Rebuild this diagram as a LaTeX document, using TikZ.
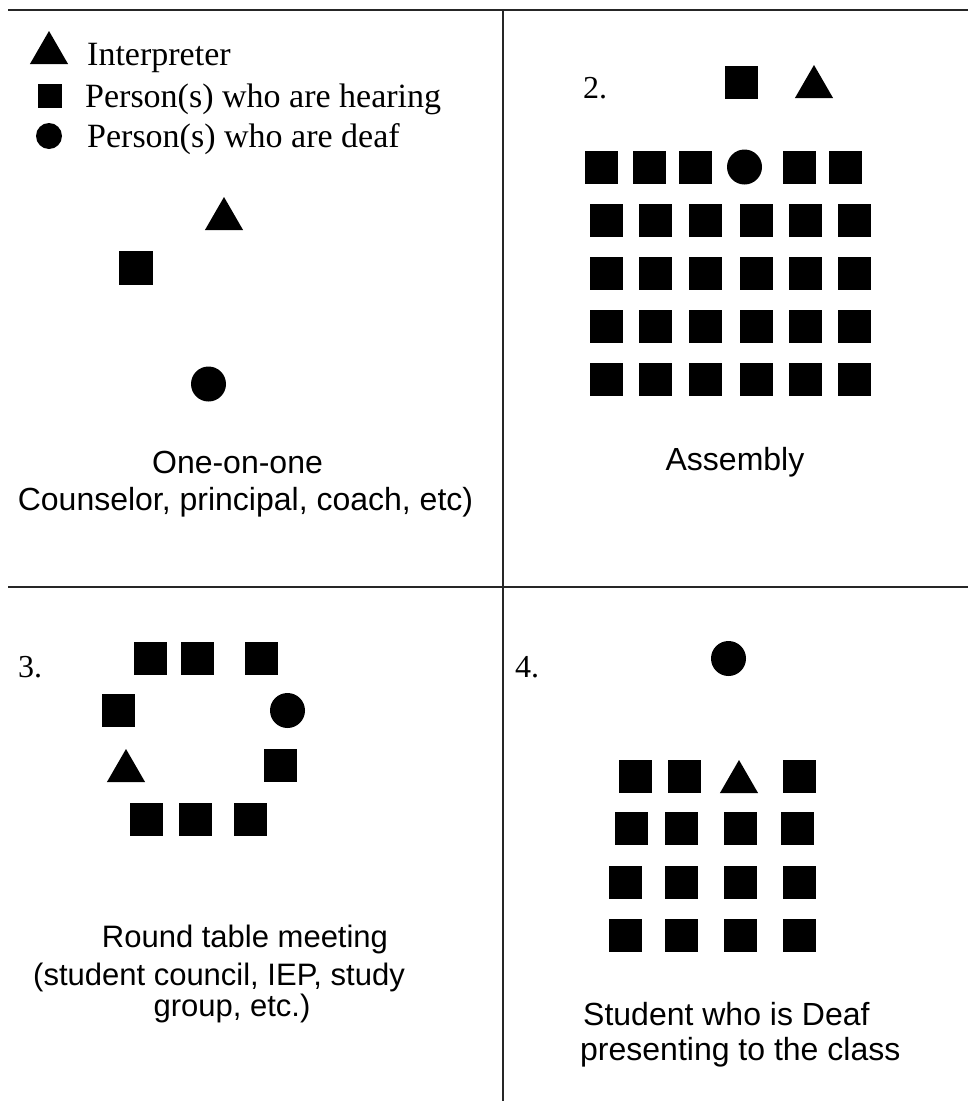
\documentclass[tikz,border=0pt]{standalone}
\usepackage{fontspec}
\setmainfont{Liberation Serif}
\newfontfamily\capfont{Liberation Sans}
\usetikzlibrary{shapes.geometric}
\tikzset{
  sq/.style={rectangle, fill=black, draw=none, minimum size=33pt, inner sep=0pt},
  dotp/.style={circle, fill=black, draw=none, minimum size=35pt, inner sep=0pt},
  tri/.style={regular polygon, regular polygon sides=3, fill=black, draw=none, minimum size=44pt, inner sep=0pt},
  legtxt/.style={anchor=base west, inner sep=0pt, font=\fontsize{34}{40}\selectfont},
  numtxt/.style={anchor=base west, inner sep=0pt, font=\fontsize{32}{38}\selectfont},
  captxt/.style={anchor=base, inner sep=0pt, font=\capfont\fontsize{32}{37}\selectfont},
  captxts/.style={anchor=base, inner sep=0pt, font=\capfont\fontsize{31}{37}\selectfont},
  captxtl/.style={anchor=base west, inner sep=0pt, font=\capfont\fontsize{32}{37}\selectfont},
  frame/.style={line width=1.6pt, draw=black!85}
}
\begin{document}
\begin{tikzpicture}[x=1pt, y=-1pt]
\useasboundingbox[fill=white] (0,0) rectangle (968,1101);

% frame lines
\coordinate (tl) at (8,10);
\coordinate (tr) at (968,10);
\coordinate (ml) at (8,587);
\coordinate (mr) at (968,587);
\coordinate (vt) at (503,10);
\coordinate (vb) at (503,1101);
\draw[frame] (tl) -- (tr);
\draw[frame] (ml) -- (mr);
\draw[frame] (vt) -- (vb);

% legend
\node[tri, minimum size=44pt] (legtri) at (49,53) {};
\node[sq, minimum size=24pt] (legsq) at (50,96) {};
\node[dotp, minimum size=26pt] (legdot) at (49,136) {};
\node[legtxt] (legt1) at (87,65) {Interpreter};
\node[legtxt] (legt2) at (85,107) {Person(s) who are hearing};
\node[legtxt] (legt3) at (87,147) {Person(s) who are deaf};

% panel 1
\node[tri] (p1tri) at (224,219) {};
\node[sq, minimum size=34pt] (p1sq) at (136,267.5) {};
\node[dotp] (p1dot) at (208.5,384) {};
\node[captxt] (p1c1) at (237.5,473) {One-on-one};
\node[captxt] (p1c2) at (245.5,510) {Counselor, principal, coach, etc)};

% panel 2
\node[numtxt] (p2num) at (583,98) {2.};
\node[sq] (p2topsq) at (741.5,82) {};
\node[tri] (p2toptri) at (814,87) {};
\foreach \x [count=\i] in {601.5,649.5,695.5}
  \node[sq] (p2r1c\i) at (\x,167) {};
\node[dotp] (p2r1c4) at (744.5,167) {};
\foreach \x [count=\i from 5] in {799,845}
  \node[sq] (p2r1c\i) at (\x,167) {};
\foreach \y [count=\r from 2] in {220.5,273.5,326,379.5}
  \foreach \x [count=\i] in {606,655.5,705,756,805,854.5}
    \node[sq] (p2r\r c\i) at (\x,\y) {};
\node[captxt] (p2c1) at (735,470) {Assembly};

% panel 3
\node[numtxt] (p3num) at (18,677) {3.};
\node[sq] (p3t1) at (150,658.5) {};
\node[sq] (p3t2) at (197.5,658.5) {};
\node[sq] (p3t3) at (261.5,658.5) {};
\node[sq] (p3l1) at (118.5,710.5) {};
\node[dotp] (p3dot) at (287.5,710.5) {};
\node[tri] (p3tri) at (126,771) {};
\node[sq] (p3r2) at (280.5,765.5) {};
\node[sq] (p3b1) at (146.5,819.5) {};
\node[sq] (p3b2) at (195,819.5) {};
\node[sq] (p3b3) at (250,819.5) {};
\node[captxts] (p3c1) at (245,947) {Round table meeting};
\node[captxts] (p3c2) at (219,985) {(student council, IEP, study};
\node[captxts] (p3c3) at (232,1016) {group, etc.)};

% panel 4
\node[numtxt] (p4num) at (515,677) {4.};
\node[dotp] (p4dot) at (728.5,658.5) {};
\node[sq] (p4r1c1) at (635,776.5) {};
\node[sq] (p4r1c2) at (684.5,776.5) {};
\node[tri] (p4r1c3) at (739,782) {};
\node[sq] (p4r1c4) at (799,776.5) {};
\foreach \x [count=\i] in {631.5,681,740,797.5}
  \node[sq] (p4r2c\i) at (\x,828.5) {};
\foreach \y [count=\r from 3] in {882,935.5}
  \foreach \x [count=\i] in {625.5,681,740,799}
    \node[sq] (p4r\r c\i) at (\x,\y) {};
\node[captxtl] (p4c1) at (583,1025) {Student who is Deaf};
\node[captxtl] (p4c2) at (580,1060) {presenting to the class};
\end{tikzpicture}
\end{document}
